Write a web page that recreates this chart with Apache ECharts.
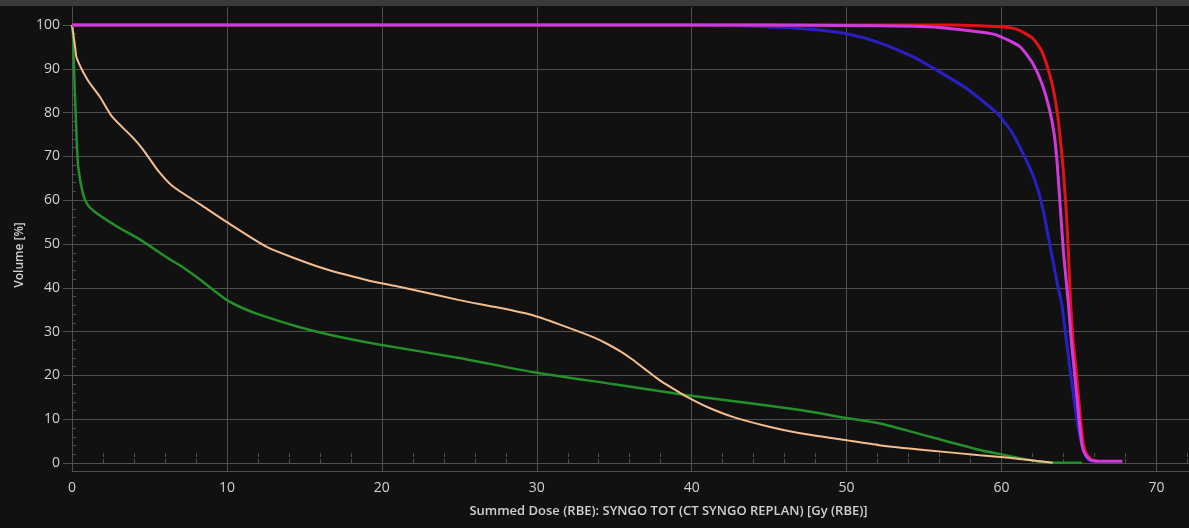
<!DOCTYPE html>
<html>
<head>
<meta charset="utf-8">
<script src="https://cdn.jsdelivr.net/npm/echarts@6/dist/echarts.min.js"></script>
<style>
  html, body { margin: 0; padding: 0; background: #111; }
  #dvhChart { width: 1189px; height: 528px; }
</style>
</head>
<body>
<div id="dvhChart"></div>
<script>
  // tick values
  const xTicks = [0, 10, 20, 30, 40, 50, 60, 70]
  const xMinorTicks = [2, 4, 6, 8, 12, 14, 16, 18, 22, 24, 26, 28, 32, 34, 36, 38, 42, 44, 46, 48, 52, 54, 56, 58, 62, 64, 66, 68, 72]
  const yTicks = [0, 10, 20, 30, 40, 50, 60, 70, 80, 90, 100]
  const yMinorTicks = [2, 4, 6, 8, 12, 14, 16, 18, 22, 24, 26, 28, 32, 34, 36, 38, 42, 44, 46, 48, 52, 54, 56, 58, 62, 64, 66, 68, 72, 74, 76, 78, 82, 84, 86, 88, 92, 94, 96, 98]

  // DVH curves, [dose, volume]
  const greenCurve = [[0, 100], [0.06, 98], [0.1, 93], [0.2, 83], [0.3, 74], [0.4, 67.6], [0.7, 61.6], [1.0, 59], [1.6, 57], [2.9, 54], [4.4, 51], [6.1, 47], [7.2, 44.6], [8.3, 41.8], [9.2, 39.3], [10, 37.2], [11, 35.4], [12, 34], [14.7, 31], [17, 29], [19.9, 27], [25, 24], [29.7, 20.8], [35, 18], [39.7, 15.5], [43, 14], [47, 12.1], [50, 10.3], [52.1, 9.1], [55.4, 6], [58.6, 3], [60, 2], [61.8, 0.7], [63.3, 0.1], [65.2, 0.1]]
  const orangeCurve = [[0, 100], [0.2, 95], [0.3, 92.5], [1.0, 87.5], [1.8, 83.6], [2.6, 79], [3.9, 74.4], [4.6, 71.5], [5.5, 67], [6.5, 63.2], [8.3, 59], [10, 55], [12.6, 49.3], [16, 44.7], [19, 41.8], [21.2, 40.2], [25, 37.2], [27.5, 35.5], [29.7, 33.8], [31.5, 31.6], [33.6, 28.8], [34.5, 27.3], [35.4, 25.5], [36.2, 23.6], [37, 21.4], [37.9, 19], [38.8, 17], [39.7, 15.1], [41, 12.8], [42.7, 10.5], [45, 8.3], [47, 6.8], [50, 5.2], [52.1, 4.1], [55, 3], [58.6, 1.8], [60.5, 1.2], [61.8, 0.7], [62.8, 0.3], [63.3, 0.1]]
  const blueCurve = [[0, 100], [40, 100], [42, 99.9], [44, 99.7], [46, 99.4], [48, 98.9], [50, 98.0], [52, 96.1], [54.3, 92.7], [56, 89.3], [57.7, 85.6], [59.7, 79.9], [60.7, 75.3], [61.8, 67.6], [62.3, 63], [62.7, 57.5], [63.0, 52], [63.3, 46.5], [63.6, 41], [63.9, 36], [64.15, 29], [64.4, 22], [64.7, 14], [64.95, 8], [65.2, 4], [65.4, 2], [65.6, 0.8], [65.9, 0.3]]
  const redCurve = [[0, 100], [50, 100], [56, 100], [58, 99.9], [60, 99.6], [61, 99], [62, 97], [62.6, 94], [63, 90], [63.3, 86], [63.6, 80], [63.85, 72], [64.05, 64], [64.2, 56], [64.33, 47], [64.45, 37], [64.62, 28], [64.82, 21], [65.1, 10], [65.3, 4], [65.5, 2], [65.8, 0.8], [66.2, 0.5]]
  const magentaCurve = [[0, 100], [40, 100], [50, 99.9], [54.3, 99.7], [56, 99.4], [58.6, 98.4], [59.7, 97.7], [61.2, 95], [62.0, 91.3], [62.6, 86.7], [63.1, 80.6], [63.4, 75], [63.6, 68], [63.8, 58], [64.0, 48], [64.3, 37], [64.5, 28], [64.7, 21], [65.0, 10], [65.2, 4], [65.4, 2], [65.7, 0.8], [66.0, 0.5], [67.0, 0.4], [67.8, 0.4]]

  let dvhChart = echarts.init(document.getElementById('dvhChart'))

  const gridColor = '#4f4f4f'
  const textColor = '#d0d0d0'
  const font = 'Open Sans'

  function line(data, color, width) {
    return {
      type: 'line',
      data: data,
      showSymbol: false,
      symbol: 'none',
      smooth: 0.2,
      lineStyle: { color: color, width: width },
      xAxisIndex: 0,
      yAxisIndex: 0
    }
  }

  dvhChart.setOption({
    backgroundColor: '#111111',
    animation: false,
    graphic: [{
      type: 'rect',
      left: 0, top: 0,
      shape: { width: 1189, height: 6 },
      style: { fill: '#3a3a3a' }
    }],
    grid: { left: 72, right: 0, top: 7, bottom: 57 },
    xAxis: [{
      type: 'value',
      min: 0,
      max: 72.1,
      name: 'Summed Dose (RBE): SYNGO TOT (CT SYNGO REPLAN) [Gy (RBE)]',
      nameLocation: 'middle',
      nameGap: 34,
      nameTextStyle: { color: textColor, fontFamily: font, fontSize: 13, fontWeight: 600, padding: [0, 0, 0, 76] },
      axisLine: { onZero: false, lineStyle: { color: gridColor, width: 1 } },
      axisTick: { show: false, customValues: xTicks },
      axisLabel: { customValues: xTicks, color: textColor, fontFamily: font, fontSize: 14, margin: 10 },
      splitLine: { show: true, lineStyle: { color: gridColor, width: 1 } }
    }, {
      type: 'value',
      min: 0,
      max: 72.1,
      position: 'bottom',
      offset: -8,
      axisLine: { show: false },
      axisTick: { show: true, inside: true, length: 4, customValues: xMinorTicks, lineStyle: { color: gridColor } },
      axisLabel: { show: false },
      splitLine: { show: false }
    }, {
      type: 'value',
      min: 0,
      max: 72.1,
      position: 'top',
      offset: -18,
      axisLine: { show: false },
      axisTick: { show: true, inside: true, length: 4, customValues: xMinorTicks, lineStyle: { color: gridColor } },
      axisLabel: { show: false },
      splitLine: { show: false }
    }],
    yAxis: [{
      type: 'value',
      min: -1.8,
      max: 104.1,
      name: 'Volume [%]',
      nameLocation: 'middle',
      nameGap: 36,
      nameTextStyle: { color: textColor, fontFamily: font, fontSize: 12, fontWeight: 600, padding: [0, 32, 0, 0] },
      axisLine: { show: true, lineStyle: { color: gridColor, width: 1 } },
      axisTick: { show: true, inside: false, length: 9, customValues: yTicks, lineStyle: { color: gridColor } },
      axisLabel: { customValues: yTicks, color: textColor, fontFamily: font, fontSize: 14, margin: 12 },
      splitLine: { show: true, lineStyle: { color: gridColor, width: 1 } }
    }, {
      type: 'value',
      min: -1.8,
      max: 104.1,
      position: 'left',
      axisLine: { show: false },
      axisTick: { show: true, inside: true, length: 4, customValues: yMinorTicks, lineStyle: { color: gridColor } },
      axisLabel: { show: false },
      splitLine: { show: false }
    }],
    series: [
      line(greenCurve, '#23902a', 2.5),
      line(orangeCurve, '#f4bd8e', 2),
      line(blueCurve, '#2a1fc4', 3),
      line(redCurve, '#e01414', 3),
      line(magentaCurve, '#cf3adc', 3)
    ]
  })
</script>
</body>
</html>
